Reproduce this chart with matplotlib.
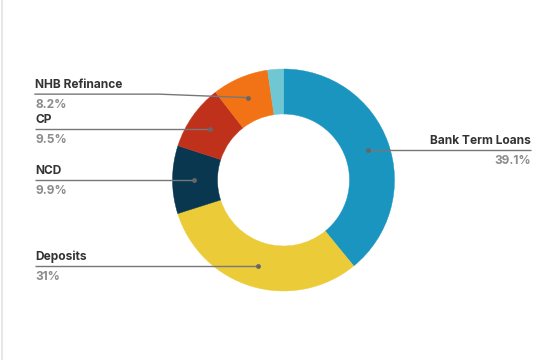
import numpy as np
import matplotlib
matplotlib.use("Agg")
import matplotlib.pyplot as plt
from matplotlib.patches import Wedge

categories = ["Bank Term Loans", "Deposits", "NCD", "CP", "NHB Refinance", ""]
values = [39.1, 31.0, 9.9, 9.5, 8.2, 2.3]
colors = ["#1a95bf", "#ebcb38", "#08374f", "#c0311c", "#f27216", "#6fc7d3"]

# layout: extra vertical shift of label line (px) to avoid overlap
label_shift = {"NHB Refinance": -3.5}

W, H = 552, 360
fig = plt.figure(figsize=(W / 100, H / 100), dpi=100)
ax = fig.add_axes([0, 0, 1, 1])
ax.set_xlim(0, W)
ax.set_ylim(H, 0)
ax.set_aspect("equal")
ax.axis("off")

cx, cy, R, ring = 283.5, 180.0, 111.0, 45.0
total = sum(values)
start = 0.0
font = "Inter"
for lab, v, c in zip(categories, values, colors):
    a0 = start / total * 360
    a1 = (start + v) / total * 360
    start += v
    ax.add_patch(Wedge((cx, cy), R, a0 - 90, a1 - 90, width=ring, facecolor=c,
                       edgecolor=c, linewidth=0.3))
    if not lab:
        continue
    mid = np.deg2rad((a0 + a1) / 2)
    r = R - ring / 2 + 1
    dx = cx + r * np.sin(mid)
    dy = cy - r * np.cos(mid)
    ly = dy + label_shift.get(lab, 0)
    if dx > cx:
        x_end, ha = 531, "right"
    else:
        x_end, ha = 35, "left"
    if ly != dy:
        kx = 159
        ax.plot([x_end, kx, dx], [ly, ly, dy], color="#777777", lw=1.0)
    else:
        ax.plot([dx, x_end], [dy, dy], color="#777777", lw=1.0, solid_capstyle="butt")
    ax.plot([dx], [dy], "o", color="#666666", ms=3.5, mew=0)
    ax.text(x_end, ly - 5.7, lab, ha=ha, va="baseline", fontsize=8.6,
            fontfamily=font, fontweight="bold", color="#333333")
    ax.text(x_end, ly + 14.3, f"{v:g}%", ha=ha, va="baseline", fontsize=8.6,
            fontfamily=font, fontweight="bold", color="#8c8c8c")

ax.plot([1.5, 1.5], [0, H], color="#e2e2e2", lw=1.2)

fig.savefig("out.png", dpi=100)
